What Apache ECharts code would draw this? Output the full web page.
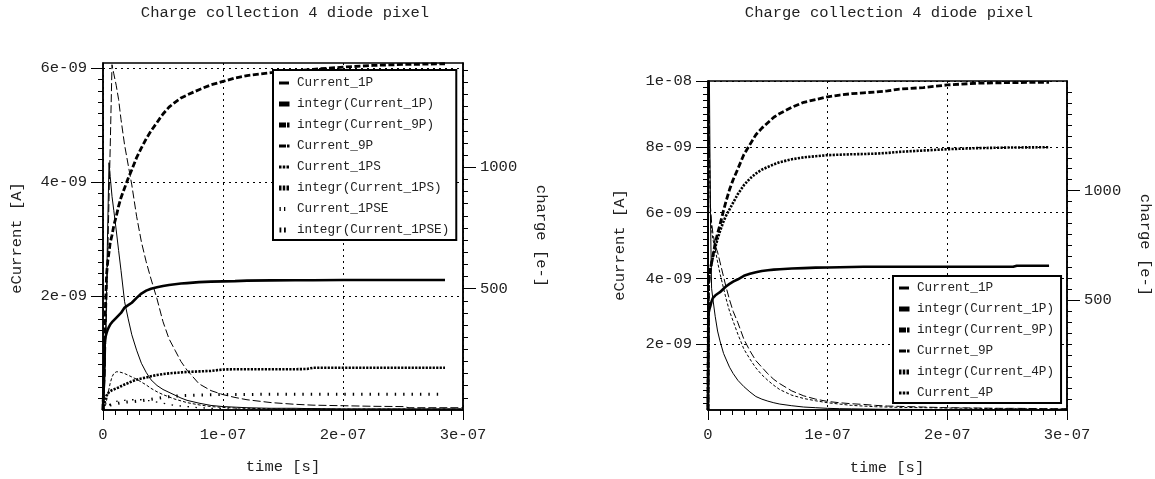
<!DOCTYPE html>
<html>
<head>
<meta charset="utf-8">
<title>Charge collection 4 diode pixel</title>
<script src="https://cdn.jsdelivr.net/npm/echarts@6/dist/echarts.min.js"></script>
<style>
html, body { margin: 0; padding: 0; background: #fff; }
#chart-container { width: 1155px; height: 479px; }
</style>
</head>
<body>
<div id="chart-container"></div>
<script>
// time in ns, current in nA, charge in e-  (tick labels are written in SI below)

// ---- left plot ----
let timeL = [0, 1, 1.5, 2, 3, 4, 5, 6, 7.5, 9, 11, 13, 15, 18, 21, 24, 28, 32, 36, 40, 45, 50, 55, 60, 65, 70, 80, 90, 100, 110, 120, 140, 160, 170, 175, 200, 225, 250, 255, 285, 300]
let current1P_L = [0, 0, 0.55, 1.1, 2.2, 3.3, 4.34, 4.1, 3.75, 3.5, 3.16, 2.8, 2.45, 1.9, 1.6, 1.32, 1.05, 0.82, 0.66, 0.53, 0.43, 0.36, 0.31, 0.26, 0.21, 0.17, 0.12, 0.08, 0.06, 0.05, 0.04, 0.03, 0.03, 0.025, 0.025, 0.02, 0.02, 0.02, 0.02, 0.02, 0.02]
let integr1P_L = [0, 0, 289, 300, 318, 332, 343, 352, 362, 370, 380, 390, 400, 422, 432, 442, 462, 480, 492, 500, 506, 511, 515, 518, 521, 523, 527, 529, 530, 531, 533, 534, 535, 535, 535, 536, 536, 536, 536, 536, null]
let integr9P_L = [0, 0, 300, 420, 560, 615, 650, 690, 720, 760, 797, 840, 875, 915, 955, 990, 1040, 1080, 1118, 1150, 1185, 1220, 1248, 1268, 1286, 1298, 1320, 1340, 1354, 1368, 1378, 1390, 1397, 1402, 1404, 1413, 1420, 1424, 1424, 1427, null]
let current9P_L = [0, 0, 0.45, 0.9, 1.8, 2.75, 3.7, 4.6, 6.06, 5.9, 5.7, 5.45, 5.1, 4.65, 4.3, 3.95, 3.4, 2.95, 2.6, 2.3, 1.95, 1.55, 1.25, 1.05, 0.85, 0.7, 0.46, 0.34, 0.27, 0.22, 0.18, 0.13, 0.1, 0.09, 0.085, 0.075, 0.065, 0.06, 0.04, 0.04, 0.04]
let current1PS_L = [0, 0, 0.03, 0.07, 0.17, 0.27, 0.37, 0.47, 0.58, 0.64, 0.67, 0.67, 0.66, 0.64, 0.61, 0.58, 0.54, 0.49, 0.44, 0.38, 0.32, 0.27, 0.23, 0.19, 0.16, 0.13, 0.09, 0.06, 0.045, 0.035, 0.03, 0.02, 0.015, 0.015, 0.015, 0.015, 0.015, 0.015, 0.015, 0.015, 0.015]
let integr1PS_L = [0, 0, 35, 45, 60, 68, 74, 78, 82, 85, 89, 93, 98, 105, 111, 118, 125, 130, 134, 139, 144, 148, 151, 153, 155, 157, 159, 161, 167, 168, 168, 168, 168, 169, 174, 174, 174, 174, 174, 174, null]
let current1PSE_L = [0, 0, 0.01, 0.02, 0.04, 0.06, 0.08, 0.1, 0.12, 0.14, 0.15, 0.16, 0.17, 0.17, 0.18, 0.18, 0.18, 0.18, 0.17, 0.16, 0.14, 0.12, 0.1, 0.08, 0.07, 0.06, 0.04, 0.03, 0.02, 0.02, 0.015, 0.01, 0.01, 0.01, 0.01, 0.01, 0.01, 0.01, 0.01, 0.01, 0.01]
let integr1PSE_L = [0, 0, 5, 8, 12, 15, 18, 20, 22, 24, 26, 28, 30, 32, 33, 34, 36, 38, 41, 44, 48, 52, 55, 57, 59, 60, 62, 63, 64, 64, 64, 65, 65, 65, 65, 65, 65, 65, 65, 65, null]

// ---- right plot ----
let timeR = [0, 0.4, 1.2, 2, 3, 4, 6, 8, 10, 13, 15, 18, 21, 25, 30, 35, 40, 45, 50, 55, 60, 70, 80, 90, 100, 110, 120, 130, 140, 150, 160, 180, 200, 225, 245, 255, 258, 285, 300]
let current1P_R = [0, 12, 10, 6, 3.7, 3.4, 2.85, 2.4, 2.1, 1.72, 1.55, 1.3, 1.11, 0.9, 0.71, 0.55, 0.41, 0.33, 0.27, 0.22, 0.18, 0.13, 0.09, 0.07, 0.05, 0.04, 0.035, 0.03, 0.025, 0.02, 0.02, 0.015, 0.015, 0.01, 0.01, 0.01, 0.01, 0.01, 0.01]
let integr1P_R = [0, 440, 460, 475, 495, 510, 522, 530, 537, 553, 563, 575, 585, 596, 612, 621, 628, 634, 637, 640, 642, 645, 647, 649, 650, 651, 652, 653, 653, 653, 653, 653, 653, 653, 653, 653, 658, 658, null]
let integr9P_R = [0, 560, 610, 640, 670, 700, 760, 805, 844, 910, 950, 1005, 1050, 1100, 1165, 1210, 1255, 1285, 1310, 1335, 1352, 1380, 1403, 1415, 1428, 1436, 1442, 1446, 1450, 1455, 1463, 1470, 1482, 1490, 1492, 1493, 1493, 1494, null]
let current9P_R = [0, 12, 8, 6.2, 5.7, 5.4, 5.0, 4.8, 4.5, 4.05, 3.75, 3.35, 3.0, 2.65, 2.15, 1.8, 1.5, 1.3, 1.1, 0.93, 0.8, 0.58, 0.43, 0.33, 0.26, 0.22, 0.19, 0.17, 0.14, 0.12, 0.11, 0.09, 0.07, 0.06, 0.05, 0.05, 0.05, 0.04, 0.04]
let integr4P_R = [0, 580, 620, 645, 672, 695, 740, 780, 815, 860, 885, 915, 945, 985, 1025, 1055, 1078, 1096, 1108, 1120, 1130, 1143, 1152, 1157, 1162, 1164, 1166, 1167, 1169, 1172, 1177, 1183, 1189, 1194, 1196, 1197, 1197, 1198, null]
let current4P_R = [0, 12, 7.8, 6.0, 5.5, 5.2, 4.9, 4.5, 4.15, 3.7, 3.4, 3.0, 2.7, 2.3, 1.85, 1.55, 1.28, 1.07, 0.9, 0.75, 0.62, 0.45, 0.35, 0.28, 0.22, 0.18, 0.14, 0.12, 0.1, 0.09, 0.08, 0.07, 0.06, 0.05, 0.04, 0.04, 0.04, 0.03, 0.03]

// ---- tick labels ----
let timeTickVals = [0, 100, 200, 300]
let timeTickLabels = ['0', '1e-07', '2e-07', '3e-07']
let currTickValsL = [2, 4, 6]
let currTickLabelsL = ['2e-09', '4e-09', '6e-09']
let currTickValsR = [2, 4, 6, 8, 10]
let currTickLabelsR = ['2e-09', '4e-09', '6e-09', '8e-09', '1e-08']
let chargeTickVals = [500, 1000]
let chargeTickLabels = ['500', '1000']

let legendL = ['Current_1P', 'integr(Current_1P)', 'integr(Current_9P)', 'Current_9P', 'Current_1PS', 'integr(Current_1PS)', 'Current_1PSE', 'integr(Current_1PSE)']
let legendR = ['Current_1P', 'integr(Current_1P)', 'integr(Current_9P)', 'Currnet_9P', 'integr(Current_4P)', 'Current_4P']

let titleText = 'Charge collection 4 diode pixel'

let fontMono = '"Liberation Mono", "DejaVu Sans Mono", monospace'
let textColor = '#222'
let fontSize = 15.5

// line looks: [width, dash]
let thinSolid = [1, 'solid']
let thickSolid = [2.6, 'solid']
let thickDash = [2.8, [6, 2.5]]
let thinLongDash = [1, [8, 3]]
let thinShortDash = [1, [3, 2]]
let thickDots = [2.6, [2.2, 1.3]]
let thinSparse = [1.3, [1.5, 6.5]]
let thickSparse = [3, [1.4, 7]]

// legend icons, box 13x14 (the two M points fix the box)
let box = 'path://M0,0M13,14'
let iconThin = box + 'M0,5.5h10v3h-10z'
let iconThick = box + 'M0,4.5h10.5v5h-10.5z'
let iconThickDash = box + 'M0,4.5h7v5h-7zM8,4.5h2.5v5h-2.5z'
let iconThinDash = box + 'M0,5.5h7v3h-7zM8,5.5h2.5v3h-2.5z'
let iconThinDots = box + 'M0,5.5h2.5v3h-2.5zM3.75,5.5h2.5v3h-2.5zM7.5,5.5h2.5v3h-2.5z'
let iconThickDots = box + 'M0,4.5h2.5v5h-2.5zM3.75,4.5h2.5v5h-2.5zM7.5,4.5h2.5v5h-2.5z'
let iconThinSparse = box + 'M0.5,5h1.3v4h-1.3zM5,5h1.3v4h-1.3z'
let iconThickSparse = box + 'M0.5,4.5h1.8v5h-1.8zM5,4.5h1.8v5h-1.8z'

function pairs(times, values) {
    let out = []
    for (let i = 0; i < times.length; i++) {
        out.push([times[i], values[i]])
    }
    return out
}

function labelFrom(vals, labels) {
    return function (v) {
        for (let i = 0; i < vals.length; i++) {
            if (Math.abs(v - vals[i]) < 1e-6) return labels[i]
        }
        return ''
    }
}

function lineSeries(name, xi, yi, times, values, look) {
    return {
        name: name,
        type: 'line',
        xAxisIndex: xi,
        yAxisIndex: yi,
        data: pairs(times, values),
        symbol: 'none',
        showSymbol: false,
        color: '#000',
        lineStyle: { color: '#000', width: look[0], type: look[1] },
        silent: true,
        animation: false
    }
}

function timeAxis(gi) {
    return {
        type: 'value', gridIndex: gi, min: 0, max: 300, interval: 100,
        axisLine: { show: true, onZero: false, lineStyle: { color: '#000', width: 1.5 } },
        axisTick: { show: true, length: 10, lineStyle: { color: '#000', width: 1 } },
        minorTick: { show: true, splitNumber: 10, length: 5, lineStyle: { color: '#000', width: 1 } },
        axisLabel: { margin: 17, color: textColor, fontFamily: fontMono, fontSize: fontSize,
            formatter: labelFrom(timeTickVals, timeTickLabels) },
        splitLine: { show: true, lineStyle: { color: '#000', width: 1, type: [2, 4] } }
    }
}

function currentAxis(gi, max, vals, labels) {
    return {
        type: 'value', gridIndex: gi, position: 'left', min: 0, max: max, interval: 2,
        axisLine: { show: true, onZero: false, lineStyle: { color: '#000', width: 1.5 } },
        axisTick: { show: true, length: 12, customValues: vals, lineStyle: { color: '#000', width: 1 } },
        minorTick: { show: true, splitNumber: 10, length: 5, lineStyle: { color: '#000', width: 1 } },
        axisLabel: { margin: 16, color: textColor, fontFamily: fontMono, fontSize: fontSize,
            formatter: labelFrom(vals, labels) },
        splitLine: { show: true, lineStyle: { color: '#000', width: 1, type: [2, 4] } }
    }
}

function chargeAxis(gi, max) {
    return {
        type: 'value', gridIndex: gi, position: 'right', min: 0, max: max, interval: 500,
        axisLine: { show: true, onZero: false, lineStyle: { color: '#000', width: 1.5 } },
        axisTick: { show: true, length: 13, customValues: chargeTickVals, lineStyle: { color: '#000', width: 1 } },
        minorTick: { show: true, splitNumber: 10, length: 5, lineStyle: { color: '#000', width: 1 } },
        axisLabel: { margin: 17, color: textColor, fontFamily: fontMono, fontSize: fontSize,
            formatter: labelFrom(chargeTickVals, chargeTickLabels) },
        splitLine: { show: false }
    }
}

function legendBox(names, icons, left, top, padding) {
    let data = []
    for (let i = 0; i < names.length; i++) {
        data.push({ name: names[i], icon: icons[i] })
    }
    return {
        orient: 'vertical', left: left, top: top,
        padding: padding, itemGap: 7, itemWidth: 13, itemHeight: 14,
        borderColor: '#000', borderWidth: 2, borderRadius: 0, backgroundColor: '#fff',
        selectedMode: false,
        itemStyle: { borderWidth: 0 },
        textStyle: { fontFamily: fontMono, fontSize: 12.7, color: textColor },
        data: data
    }
}

function label(text, x, y, rot) {
    return {
        type: 'text', x: x, y: y, rotation: rot || 0, silent: true,
        style: {
            text: text, fill: textColor, font: fontSize + 'px ' + fontMono,
            align: 'center', verticalAlign: 'middle',
            textAlign: 'center', textVerticalAlign: 'middle'
        }
    }
}

function createChart() {
    let dom = document.getElementById('chart-container')
    let myChart = echarts.init(dom, null, { renderer: 'canvas' })

    let option = {
        animation: false,
        backgroundColor: '#fff',
        textStyle: { fontFamily: fontMono },
        grid: [
            { left: 103, top: 63, width: 360, height: 347, show: true, borderColor: '#000', borderWidth: 1.5, backgroundColor: 'transparent' },
            { left: 708, top: 81, width: 359, height: 329, show: true, borderColor: '#000', borderWidth: 1.5, backgroundColor: 'transparent' }
        ],
        xAxis: [timeAxis(0), timeAxis(1)],
        yAxis: [
            currentAxis(0, 6.09, currTickValsL, currTickLabelsL),
            chargeAxis(0, 1430),
            currentAxis(1, 10, currTickValsR, currTickLabelsR),
            chargeAxis(1, 1500)
        ],
        legend: [
            legendBox(legendL, [iconThin, iconThick, iconThickDash, iconThinDash, iconThinDots, iconThickDots, iconThinSparse, iconThickSparse], 273, 70, [6, 7, 3, 6]),
            legendBox(legendR, [iconThin, iconThick, iconThickDash, iconThinDash, iconThickDots, iconThinDots], 893, 276, [5, 7, 3, 6])
        ],
        graphic: [
            label(titleText, 285, 13),
            label(titleText, 889, 13),
            label('time [s]', 283, 467),
            label('time [s]', 887, 468),
            label('eCurrent [A]', 17, 238, Math.PI / 2),
            label('eCurrent [A]', 620, 245, Math.PI / 2),
            label('charge [e-]', 541, 236, -Math.PI / 2),
            label('charge [e-]', 1145, 245, -Math.PI / 2)
        ],
        series: [
            lineSeries('Current_1P', 0, 0, timeL, current1P_L, thinSolid),
            lineSeries('integr(Current_1P)', 0, 1, timeL, integr1P_L, thickSolid),
            lineSeries('integr(Current_9P)', 0, 1, timeL, integr9P_L, thickDash),
            lineSeries('Current_9P', 0, 0, timeL, current9P_L, thinLongDash),
            lineSeries('Current_1PS', 0, 0, timeL, current1PS_L, thinShortDash),
            lineSeries('integr(Current_1PS)', 0, 1, timeL, integr1PS_L, thickDots),
            lineSeries('Current_1PSE', 0, 0, timeL, current1PSE_L, thinSparse),
            lineSeries('integr(Current_1PSE)', 0, 1, timeL, integr1PSE_L, thickSparse),

            lineSeries('Current_1P', 1, 2, timeR, current1P_R, thinSolid),
            lineSeries('integr(Current_1P)', 1, 3, timeR, integr1P_R, thickSolid),
            lineSeries('integr(Current_9P)', 1, 3, timeR, integr9P_R, thickDash),
            lineSeries('Currnet_9P', 1, 2, timeR, current9P_R, thinLongDash),
            lineSeries('integr(Current_4P)', 1, 3, timeR, integr4P_R, thickDots),
            lineSeries('Current_4P', 1, 2, timeR, current4P_R, thinShortDash)
        ]
    }
    myChart.setOption(option)
    window.addEventListener('resize', myChart.resize)
}

createChart()
</script>
</body>
</html>
